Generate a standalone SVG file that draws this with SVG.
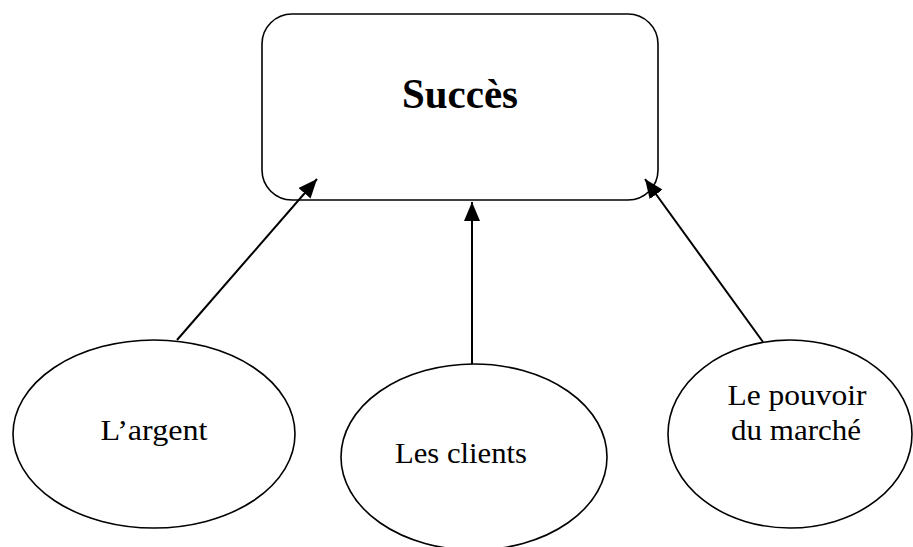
<svg xmlns="http://www.w3.org/2000/svg" width="913" height="547" viewBox="0 0 913 547">
  <style>
    .shape { fill: #ffffff; stroke: #000000; stroke-width: 1.6; }
    .link { fill: none; stroke: #000000; stroke-width: 2; }
    .label { font-family: "Liberation Serif", "Times New Roman", serif; font-size: 28.5px; fill: #000000; text-anchor: middle; }
    .title { font-family: "Liberation Serif", "Times New Roman", serif; font-size: 43px; font-weight: bold; fill: #000000; text-anchor: middle; }
  </style>
  <defs>
    <marker id="arrow" markerUnits="userSpaceOnUse" markerWidth="20" markerHeight="16" refX="19" refY="8" orient="auto">
      <path d="M0,0 L19,8 L0,16 Z" fill="#000000"/>
    </marker>
  </defs>
  <rect width="913" height="547" fill="#ffffff"/>

  <g id="node-succes">
    <rect class="shape" x="262" y="14" width="396" height="186" rx="30" ry="30"/>
    <text class="title" x="460" y="108" textLength="116" lengthAdjust="spacingAndGlyphs">Succès</text>
  </g>

  <g id="connectors">
    <line class="link" x1="177" y1="340" x2="317" y2="179" marker-end="url(#arrow)"/>
    <line class="link" x1="472" y1="364" x2="472" y2="202" marker-end="url(#arrow)"/>
    <line class="link" x1="763" y1="342" x2="645" y2="179" marker-end="url(#arrow)"/>
  </g>

  <g id="node-argent">
    <ellipse class="shape" cx="154" cy="434" rx="141" ry="94"/>
    <text class="label" x="154" y="440" textLength="107" lengthAdjust="spacingAndGlyphs">L’argent</text>
  </g>

  <g id="node-clients">
    <ellipse class="shape" cx="474" cy="457" rx="133" ry="93"/>
    <text class="label" x="461" y="463" textLength="132" lengthAdjust="spacingAndGlyphs">Les clients</text>
  </g>

  <g id="node-pouvoir">
    <ellipse class="shape" cx="790" cy="434" rx="122" ry="94"/>
    <text class="label" x="797" y="405" textLength="139" lengthAdjust="spacingAndGlyphs">Le pouvoir</text>
    <text class="label" x="796" y="440" textLength="130" lengthAdjust="spacingAndGlyphs">du marché</text>
  </g>
</svg>
